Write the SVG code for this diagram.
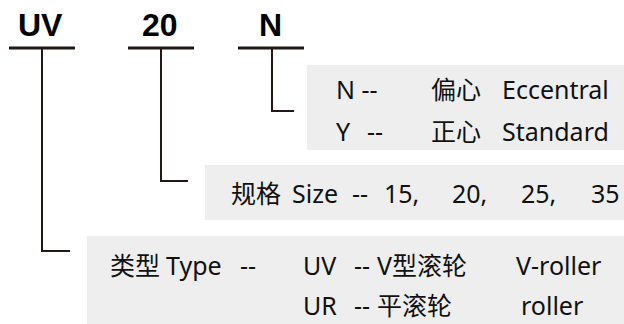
<svg xmlns="http://www.w3.org/2000/svg" width="624" height="324" viewBox="0 0 624 324">
<style>
.box{fill:#eeeeee}
.t{font-family:"Noto Sans","Noto Sans CJK SC",sans-serif;font-size:25px;fill:#111}
.h{font-family:"Liberation Sans",Arial,sans-serif;font-size:32px;font-weight:bold;fill:#000}
.bar{stroke:#231815;stroke-width:3;fill:none}
.ln{stroke:#231815;stroke-width:2;fill:none}
</style>
<rect width="624" height="324" fill="#ffffff"/>
<g id="title-uv">
<text class="h" x="18" y="36">UV</text>
<line class="bar" x1="9" y1="48" x2="75" y2="48"/>
</g>
<g id="title-20">
<text class="h" x="142" y="36">20</text>
<line class="bar" x1="128" y1="48" x2="194" y2="48"/>
</g>
<g id="title-n">
<text class="h" x="259" y="36">N</text>
<line class="bar" x1="238" y1="48" x2="304" y2="48"/>
</g>
<g id="connectors">
<polyline class="ln" points="272,48 272,111 294,111"/>
<polyline class="ln" points="161,48 161,181 188,181"/>
<polyline class="ln" points="42,48 42,251 70,251"/>
</g>
<g id="box-eccentric">
<rect class="box" x="307" y="65" width="317" height="85"/>
<text class="t" x="336" y="99">N --</text>
<text class="t" x="431" y="99">偏心</text>
<text class="t" x="502" y="99">Eccentral</text>
<text class="t" x="336" y="141">Y</text>
<text class="t" x="367" y="141">--</text>
<text class="t" x="431" y="141">正心</text>
<text class="t" x="502" y="141">Standard</text>
</g>
<g id="box-size">
<rect class="box" x="205" y="165" width="419" height="55"/>
<text class="t" x="231" y="203">规格</text>
<text class="t" x="292" y="203">Size</text>
<text class="t" x="352" y="203">--</text>
<text class="t" x="384" y="203">15,</text>
<text class="t" x="452" y="203">20,</text>
<text class="t" x="521" y="203">25,</text>
<text class="t" x="591" y="203">35</text>
</g>
<g id="box-type">
<rect class="box" x="87" y="236" width="537" height="88"/>
<text class="t" x="110" y="275">类型</text>
<text class="t" x="166" y="275">Type</text>
<text class="t" x="240" y="275">--</text>
<text class="t" x="303" y="275">UV</text>
<text class="t" x="354" y="275">--</text>
<text class="t" x="377" y="275">V型滚轮</text>
<text class="t" x="516" y="275">V-roller</text>
<text class="t" x="303" y="315">UR</text>
<text class="t" x="354" y="315">--</text>
<text class="t" x="377" y="315">平滚轮</text>
<text class="t" x="521" y="315">roller</text>
</g>
</svg>
